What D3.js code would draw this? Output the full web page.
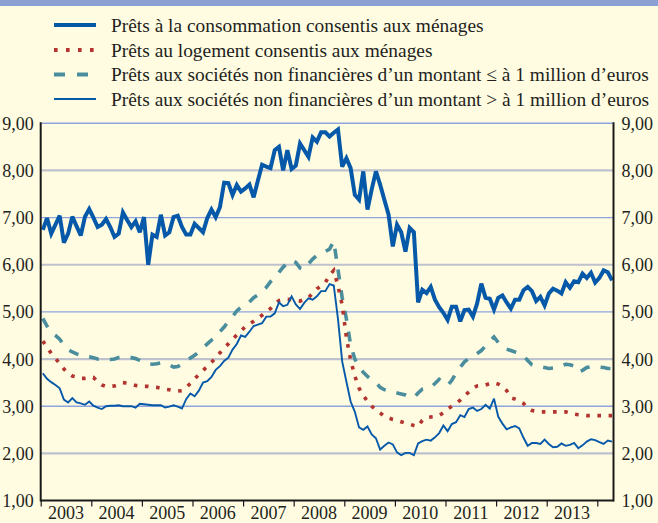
<!DOCTYPE html>
<html>
<head>
<meta charset="utf-8">
<script src="https://cdn.jsdelivr.net/npm/d3@7"></script>
<style>
  html, body { margin: 0; padding: 0; background: #FFFCE2; }
  svg { display: block; }
  text { font-family: "Liberation Serif", "Times New Roman", serif; fill: #231F20; }
</style>
</head>
<body>
<svg id="chart" width="658" height="523"></svg>
<script>
// Monthly series, January 2003 – April 2014 (in %)
const startYear = 2003;

const consommation = [
  6.74, 6.99, 6.66, 6.85, 7.04, 6.47, 6.66, 7.02, 6.82, 6.62, 7.02, 7.18,
  7.00, 6.80, 6.85, 6.97, 6.80, 6.59, 6.66, 7.11, 6.95, 6.80, 6.92, 6.69,
  7.01, 6.00, 6.64, 6.59, 7.06, 6.62, 6.69, 7.01, 7.04, 6.80, 6.64, 6.64,
  6.87, 6.78, 6.69, 6.99, 7.17, 7.01, 7.22, 7.74, 7.73, 7.48, 7.69, 7.55,
  7.62, 7.70, 7.43, 7.78, 8.12, 8.08, 8.05, 8.43, 8.50, 8.00, 8.43, 8.03,
  8.10, 8.57, 8.43, 8.29, 8.70, 8.61, 8.81, 8.81, 8.72, 8.80, 8.87, 8.08,
  8.26, 8.05, 7.48, 7.38, 7.98, 7.17, 7.60, 7.98, 7.70, 7.38, 7.06, 6.39,
  6.85, 6.69, 6.28, 6.78, 6.69, 5.20, 5.47, 5.40, 5.53, 5.26, 5.10, 4.98,
  4.83, 5.11, 5.11, 4.80, 5.04, 5.05, 4.90, 5.18, 5.60, 5.30, 5.28, 5.05,
  5.30, 5.35, 5.20, 5.07, 5.26, 5.26, 5.46, 5.53, 5.44, 5.23, 5.32, 5.14,
  5.39, 5.49, 5.45, 5.39, 5.63, 5.51, 5.65, 5.63, 5.81, 5.72, 5.83, 5.62,
  5.72, 5.88, 5.84, 5.67
];

const logement = [
  4.38, 4.25, 4.12, 4.02, 3.90, 3.79, 3.70, 3.64, 3.62, 3.59, 3.59, 3.60,
  3.61, 3.52, 3.45, 3.42, 3.42, 3.43, 3.46, 3.50, 3.49, 3.46, 3.44, 3.43,
  3.42, 3.42, 3.41, 3.40, 3.38, 3.36, 3.35, 3.33, 3.32, 3.33, 3.40, 3.48,
  3.58, 3.67, 3.76, 3.84, 3.93, 4.02, 4.13, 4.24, 4.32, 4.42, 4.51, 4.60,
  4.68, 4.74, 4.80, 4.87, 4.93, 5.01, 5.07, 5.16, 5.24, 5.26, 5.27, 5.26,
  5.24, 5.23, 5.26, 5.30, 5.40, 5.49, 5.55, 5.62, 5.78, 5.88, 5.55, 5.15,
  4.45, 3.98, 3.64, 3.38, 3.23, 3.10, 3.00, 2.92, 2.86, 2.78, 2.75, 2.72,
  2.70, 2.67, 2.64, 2.62, 2.59, 2.57, 2.70, 2.76, 2.77, 2.78, 2.80, 2.86,
  2.94, 3.00, 3.06, 3.13, 3.22, 3.30, 3.38, 3.43, 3.44, 3.45, 3.48, 3.50,
  3.47, 3.42, 3.33, 3.18, 3.15, 3.11, 3.06, 2.96, 2.91, 2.89, 2.88, 2.88,
  2.88, 2.88, 2.88, 2.88, 2.88, 2.85, 2.83, 2.82, 2.81, 2.80, 2.80, 2.80,
  2.80, 2.80, 2.80, 2.80
];

const snfPetits = [
  4.86, 4.70, 4.56, 4.50, 4.42, 4.30, 4.20, 4.15, 4.11, 4.08, 4.06, 4.05,
  4.03, 4.00, 3.99, 3.99, 3.99, 4.00, 4.03, 4.04, 4.04, 4.03, 4.01, 3.97,
  3.93, 3.90, 3.89, 3.90, 3.92, 3.91, 3.88, 3.83, 3.84, 3.89, 3.96, 4.02,
  4.08, 4.15, 4.24, 4.32, 4.40, 4.46, 4.58, 4.68, 4.80, 4.90, 5.02, 5.10,
  5.17, 5.21, 5.30, 5.36, 5.44, 5.52, 5.64, 5.73, 5.84, 5.95, 6.03, 6.10,
  6.05, 5.93, 5.90, 6.02, 6.12, 6.20, 6.25, 6.28, 6.33, 6.50, 5.90, 5.30,
  4.85, 4.30, 4.00, 3.82, 3.72, 3.63, 3.56, 3.50, 3.40, 3.35, 3.32, 3.30,
  3.28, 3.26, 3.24, 3.20, 3.18, 3.28, 3.36, 3.38, 3.40, 3.48, 3.57, 3.50,
  3.44, 3.55, 3.70, 3.83, 3.94, 4.01, 4.06, 4.12, 4.18, 4.28, 4.38, 4.47,
  4.35, 4.25, 4.21, 4.18, 4.15, 4.12, 4.07, 3.97, 3.88, 3.85, 3.84, 3.82,
  3.80, 3.81, 3.83, 3.86, 3.89, 3.88, 3.85, 3.72, 3.76, 3.82, 3.84, 3.84,
  3.83, 3.82, 3.80, 3.80
];

const snfGrands = [
  3.70, 3.58, 3.51, 3.45, 3.38, 3.14, 3.08, 3.17, 3.08, 3.06, 3.03, 3.10,
  3.01, 2.97, 2.94, 3.00, 3.01, 3.01, 3.02, 3.00, 3.00, 3.00, 2.97, 3.05,
  3.04, 3.03, 3.02, 3.02, 3.02, 2.97, 2.99, 3.02, 2.99, 2.95, 3.15, 3.27,
  3.21, 3.33, 3.50, 3.53, 3.62, 3.77, 3.85, 3.96, 4.03, 4.20, 4.32, 4.50,
  4.47, 4.58, 4.70, 4.73, 4.76, 4.90, 4.90, 4.97, 5.20, 5.12, 5.15, 5.33,
  5.16, 5.06, 5.19, 5.29, 5.26, 5.33, 5.44, 5.44, 5.59, 5.56, 4.85, 3.95,
  3.52, 3.10, 2.88, 2.55, 2.50, 2.57, 2.40, 2.32, 2.08, 2.16, 2.23, 2.19,
  2.02, 1.96, 2.01, 2.01, 1.96, 2.21, 2.26, 2.29, 2.27, 2.34, 2.43, 2.59,
  2.47, 2.62, 2.66, 2.81, 2.77, 2.94, 2.97, 2.90, 2.94, 3.03, 2.95, 3.16,
  2.78, 2.63, 2.51, 2.55, 2.58, 2.53, 2.33, 2.16, 2.22, 2.22, 2.20, 2.29,
  2.20, 2.13, 2.14, 2.21, 2.16, 2.18, 2.22, 2.11, 2.17, 2.25, 2.30, 2.28,
  2.24, 2.20, 2.27, 2.25
];

const yearLabels = ["2003", "2004", "2005", "2006", "2007", "2008",
                    "2009", "2010", "2011", "2012", "2013"];
const yTicks = [1, 2, 3, 4, 5, 6, 7, 8, 9];

const seriesNames = [
  "Prêts à la consommation consentis aux ménages",
  "Prêts au logement consentis aux ménages",
  "Prêts aux sociétés non financières d\u2019un montant \u2264 à 1 million d\u2019euros",
  "Prêts aux sociétés non financières d\u2019un montant > à 1 million d\u2019euros"
];

const blue = "#0659A9", red = "#B3342F", teal = "#4A8D9D";
const styles = [
  { color: blue, width: 4,   dash: null,      legendDash: null },
  { color: red,  width: 3.6, dash: "3.6,7.6", legendDash: "3.6,8.4" },
  { color: teal, width: 3.6, dash: "10,11",   legendDash: "11,12" },
  { color: blue, width: 1.9, dash: null,      legendDash: null }
];
const seriesData = [consommation, logement, snfPetits, snfGrands];

const serif = '"Liberation Serif", "Times New Roman", serif';
const svg = d3.select("#chart");
const W = 658, H = 523;

svg.append("rect").attr("width", W).attr("height", H).attr("fill", "#FFFCE2");
svg.append("rect").attr("width", W).attr("height", 6).attr("fill", "#8C9FD3");

const plotLeft = 40.7, plotRight = 613.5, plotTop = 123.3, plotBottom = 500.5;
const nMonths = consommation.length;

const x = d3.scaleLinear()
  .domain([startYear, startYear + nMonths / 12])
  .range([plotLeft, plotLeft + nMonths * (50.6 / 12)]);
const y = d3.scaleLinear().domain([1, 9]).range([plotBottom, plotTop]);

const fmt = v => d3.format(".2f")(v).replace(".", ",");

// Gridlines: odd values in blue, even values in grey
const grid = svg.append("g");
yTicks.filter(v => v > 1).forEach(v => {
  const odd = v % 2 === 1;
  grid.append("line")
    .attr("x1", plotLeft).attr("x2", plotRight)
    .attr("y1", y(v)).attr("y2", y(v))
    .attr("stroke", odd ? "#8FA4DD" : "#BEC2CC")
    .attr("stroke-width", odd ? 1.4 : 2.2);
});

// Series
const line = d3.line()
  .x((d, i) => x(startYear + (i + 0.5) / 12))
  .y(d => y(d));

const plot = svg.append("g");
[2, 1, 3, 0].forEach(k => {
  const p = plot.append("path")
    .datum(seriesData[k])
    .attr("d", line)
    .attr("fill", "none")
    .attr("stroke", styles[k].color)
    .attr("stroke-width", styles[k].width)
    .attr("stroke-linejoin", "miter")
    .attr("stroke-miterlimit", 3);
  if (styles[k].dash) p.attr("stroke-dasharray", styles[k].dash);
});

// Axes
const axisColor = "#1B1A1A";
const yLeft = d3.axisLeft(y).tickValues(yTicks).tickSize(0).tickPadding(7).tickFormat(fmt);
const yRight = d3.axisRight(y).tickValues(yTicks).tickSize(0).tickPadding(8).tickFormat(fmt);

const gl = svg.append("g").attr("transform", `translate(${plotLeft},0)`).call(yLeft);
const gr = svg.append("g").attr("transform", `translate(${plotRight},0)`).call(yRight);
[gl, gr].forEach(g => {
  g.select(".domain").remove();
  g.selectAll("text")
    .style("font-size", "18px")
    .style("font-family", serif)
    .attr("fill", "#231F20")
    .attr("dy", "0.33em");
});

const yearTicks = d3.range(startYear, startYear + Math.floor(nMonths / 12) + 1);
const xAxis = d3.axisBottom(x).tickValues(yearTicks).tickSize(6).tickFormat("");
const gx = svg.append("g").attr("transform", `translate(0,${plotBottom})`).call(xAxis);
gx.select(".domain").remove();
gx.selectAll("line").attr("stroke", axisColor).attr("stroke-width", 1.2);

svg.append("g").selectAll("text")
  .data(yearLabels)
  .join("text")
  .attr("x", d => x(+d + 0.5))
  .attr("y", 519)
  .attr("text-anchor", "middle")
  .style("font-size", "18px")
  .style("font-family", serif)
  .text(d => d);

svg.append("line").attr("x1", plotLeft).attr("x2", plotRight).attr("y1", plotBottom).attr("y2", plotBottom)
  .attr("stroke", axisColor).attr("stroke-width", 2);
svg.append("line").attr("x1", plotLeft).attr("x2", plotLeft).attr("y1", plotTop - 1).attr("y2", plotBottom + 1)
  .attr("stroke", axisColor).attr("stroke-width", 2);
svg.append("line").attr("x1", plotRight).attr("x2", plotRight).attr("y1", plotTop - 1).attr("y2", plotBottom + 1)
  .attr("stroke", axisColor).attr("stroke-width", 2);

// Legend
const legendRows = [25, 50, 74.5, 99];
const lg = svg.append("g");
seriesNames.forEach((name, k) => {
  const ly = legendRows[k];
  const s = lg.append("line")
    .attr("x1", 54).attr("x2", 96).attr("y1", ly).attr("y2", ly)
    .attr("stroke", styles[k].color)
    .attr("stroke-width", k === 0 ? 4 : (k === 3 ? 2 : 3.8));
  if (styles[k].legendDash) s.attr("stroke-dasharray", styles[k].legendDash);
  lg.append("text")
    .attr("x", 111).attr("y", ly + 6.5)
    .style("font-size", "19.4px")
    .style("font-family", serif)
    .text(name);
});
</script>
</body>
</html>
